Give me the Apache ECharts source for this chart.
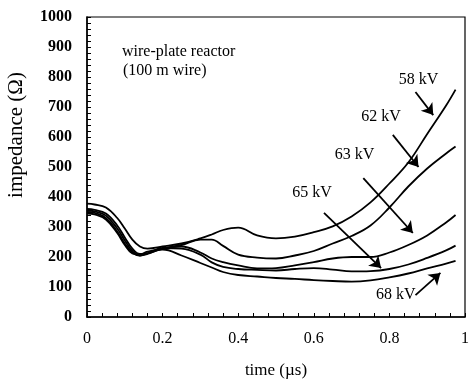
<!DOCTYPE html>
<html>
<head>
<meta charset="utf-8">
<script src="https://cdn.jsdelivr.net/npm/echarts@6/dist/echarts.min.js"></script>
<style>html,body{margin:0;padding:0;background:#fff;}#c{width:472px;height:386px;}</style>
</head>
<body>
<div id="c"></div>
<script>
// time (µs)
var time = [0, 0.02, 0.05, 0.08, 0.1, 0.12, 0.14, 0.16, 0.2, 0.25, 0.3, 0.33, 0.36, 0.4, 0.45, 0.5, 0.55, 0.6, 0.65, 0.7, 0.75, 0.8, 0.85, 0.9, 0.95, 0.975];
// impedance (Ω) per voltage
var z58 = [378, 375, 365, 330, 295, 258, 235, 228, 235, 245, 262, 275, 290, 298, 272, 262, 268, 283, 302, 335, 382, 445, 515, 610, 705, 758];
var z62 = [360, 357, 345, 305, 265, 228, 210, 212, 228, 240, 258, 258, 237, 208, 198, 195, 205, 220, 245, 270, 305, 365, 435, 495, 545, 568];
var z63 = [355, 352, 338, 295, 255, 220, 205, 210, 228, 235, 215, 195, 183, 172, 162, 163, 172, 183, 195, 200, 200, 215, 240, 272, 315, 340];
var z65 = [350, 347, 330, 285, 245, 215, 205, 212, 230, 228, 208, 182, 167, 160, 157, 155, 160, 163, 158, 152, 153, 160, 175, 197, 222, 238];
var z68 = [345, 342, 325, 280, 240, 212, 208, 218, 225, 205, 180, 165, 150, 140, 135, 130, 127, 123, 120, 118, 122, 132, 145, 162, 178, 187];
var seriesNames = ['58 kV', '62 kV', '63 kV', '65 kV', '68 kV'];
var seriesValues = [z58, z62, z63, z65, z68];
var xTicks = [0, 0.2, 0.4, 0.6, 0.8, 1];
var yTicks = [0, 100, 200, 300, 400, 500, 600, 700, 800, 900, 1000];
// annotation label anchors and arrows (data coordinates)
var labelAt = [[0.877, 790], [0.778, 667], [0.708, 540], [0.595, 413], [0.817, 73]];
var arrowFrom = [[0.869, 750], [0.809, 607], [0.731, 463], [0.627, 347], [0.869, 73]];
var arrowTo = [[0.916, 673], [0.877, 500], [0.862, 280], [0.778, 163], [0.935, 147]];

var FONT = '"Liberation Serif", "DejaVu Serif", serif';
var chart = echarts.init(document.getElementById('c'));

var series = seriesNames.map(function (name, i) {
  return {
    name: name,
    type: 'line',
    smooth: 0.4,
    symbol: 'none',
    silent: true,
    data: time.map(function (t, k) { return [t, seriesValues[i][k]]; }),
    lineStyle: { color: '#000', width: 1.8 },
    markLine: {
      silent: true,
      symbol: ['none', 'arrow'],
      symbolSize: 11,
      label: { show: false },
      lineStyle: { color: '#000', width: 1.8, type: 'solid' },
      data: [[{ coord: arrowFrom[i] }, { coord: arrowTo[i] }]]
    },
    markPoint: {
      silent: true,
      symbol: 'circle',
      symbolSize: 0,
      label: { show: true, position: 'inside', formatter: name, color: '#000', fontFamily: FONT, fontSize: 16 },
      data: [{ coord: labelAt[i] }]
    }
  };
});

chart.setOption({
  animation: false,
  backgroundColor: '#fff',
  grid: { left: 87, right: 3, top: 17, bottom: 69, show: true, borderColor: '#000', borderWidth: 1.2, backgroundColor: 'transparent' },
  xAxis: {
    type: 'value', min: 0, max: 1, interval: 0.2,
    name: 'time (\u00b5s)', nameLocation: 'middle', nameGap: 45,
    nameTextStyle: { color: '#000', fontFamily: FONT, fontSize: 17 },
    axisLine: { lineStyle: { color: '#000', width: 1.5 } },
    axisTick: { inside: true, length: 4, lineStyle: { color: '#000' } },
    minorTick: { show: true, splitNumber: 5, length: 4, lineStyle: { color: '#000' } },
    splitLine: { show: false },
    axisLabel: { color: '#000', fontFamily: FONT, fontSize: 16, margin: 14,
      formatter: function (v) { return xTicks.indexOf(+v.toFixed(1)) >= 0 ? String(+v.toFixed(1)) : ''; } }
  },
  yAxis: {
    type: 'value', min: 0, max: 1000, interval: 100,
    axisLine: { show: true, lineStyle: { color: '#000', width: 1.5 } },
    axisTick: { show: true, inside: true, length: 4, lineStyle: { color: '#000' } },
    minorTick: { show: true, splitNumber: 5, length: 4, lineStyle: { color: '#000' } },
    splitLine: { show: false },
    axisLabel: { color: '#000', fontFamily: FONT, fontSize: 16, fontWeight: 'bold', margin: 15,
      formatter: function (v) { return yTicks.indexOf(v) >= 0 ? String(v) : ''; } }
  },
  graphic: [
    { type: 'text', left: 122, top: 44, style: { text: 'wire-plate reactor', fill: '#000', font: '16px ' + FONT } },
    { type: 'text', left: 123, top: 63, style: { text: '(100 m wire)', fill: '#000', font: '16px ' + FONT } },
    { type: 'text', x: 16, y: 135, rotation: Math.PI / 2, style: { text: 'impedance (\u03a9)', fill: '#000', font: '21px ' + FONT, align: 'center', verticalAlign: 'middle' } }
  ],
  series: series
});
</script>
</body>
</html>
